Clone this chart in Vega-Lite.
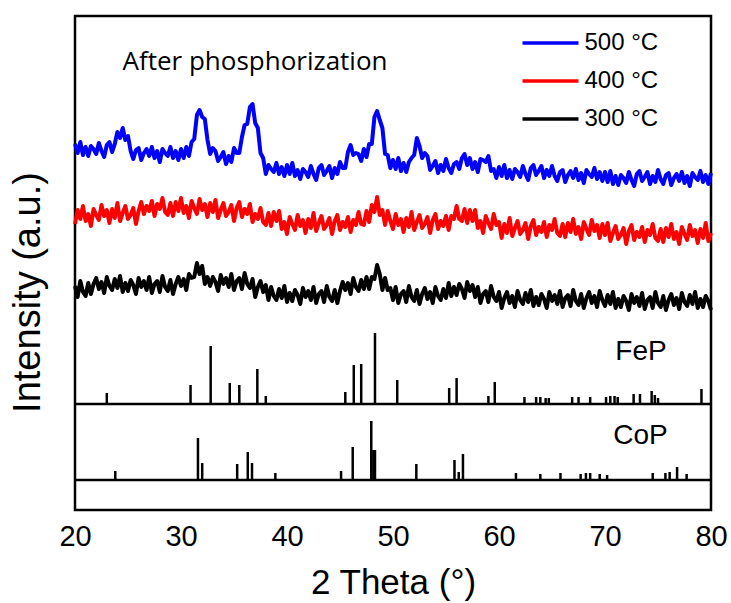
{
"$schema": "https://vega.github.io/schema/vega-lite/v6.json",
"width": 636,
"height": 494,
"autosize": {"type": "none"},
"padding": {"left": 75, "top": 16, "right": 20, "bottom": 93},
"background": "white",
"config": {
  "view": {"stroke": "black", "strokeWidth": 2.5},
  "font": "Liberation Sans",
  "axisX": {"labelFontSize": 29, "labelFont": "Liberation Sans", "labelColor": "black", "ticks": false, "domain": false, "grid": false, "labelPadding": 12, "labelFlush": false, "titleFontSize": 35, "titleFont": "Liberation Sans", "titleFontWeight": "normal", "titleColor": "black", "titlePadding": 14},
  "axisY": {"labels": false, "ticks": false, "domain": false, "grid": false, "titleFontSize": 38, "titleFont": "Liberation Sans", "titleFontWeight": "normal", "titleColor": "black", "titlePadding": 28, "titleY": 276}
},
"datasets": {
"xrd": [
{"t":20,"b":366,"r":286,"k":224},{"t":20.25,"b":357,"r":300,"k":213},{"t":20.5,"b":368,"r":291,"k":229},{"t":20.75,"b":355,"r":304,"k":218},
{"t":21,"b":363,"r":289,"k":214},{"t":21.25,"b":354,"r":296,"k":227},{"t":21.5,"b":364,"r":284,"k":216},{"t":21.75,"b":361,"r":301,"k":226},
{"t":22,"b":356,"r":295,"k":232},{"t":22.25,"b":367,"r":290,"k":221},{"t":22.5,"b":359,"r":305,"k":228},{"t":22.75,"b":353,"r":294,"k":217},
{"t":23,"b":365,"r":300,"k":233},{"t":23.25,"b":368,"r":287,"k":224},{"t":23.5,"b":358,"r":301,"k":220},{"t":23.75,"b":366,"r":292,"k":231},
{"t":24,"b":378,"r":307,"k":222},{"t":24.25,"b":372,"r":289,"k":234},{"t":24.5,"b":382,"r":297,"k":218},{"t":24.75,"b":370,"r":304,"k":227},
{"t":25,"b":374,"r":291,"k":219},{"t":25.25,"b":359,"r":295,"k":230},{"t":25.5,"b":351,"r":302,"k":225},{"t":25.75,"b":360,"r":286,"k":216},
{"t":26,"b":362,"r":299,"k":232},{"t":26.25,"b":350,"r":308,"k":223},{"t":26.5,"b":357,"r":296,"k":229},{"t":26.75,"b":361,"r":304,"k":220},
{"t":27,"b":354,"r":299,"k":233},{"t":27.25,"b":363,"r":309,"k":217},{"t":27.5,"b":352,"r":294,"k":226},{"t":27.75,"b":359,"r":306,"k":229},
{"t":28,"b":348,"r":301,"k":218},{"t":28.25,"b":361,"r":312,"k":234},{"t":28.5,"b":357,"r":298,"k":223},{"t":28.75,"b":354,"r":295,"k":219},
{"t":29,"b":363,"r":307,"k":230},{"t":29.25,"b":352,"r":294,"k":216},{"t":29.5,"b":359,"r":308,"k":226},{"t":29.75,"b":350,"r":299,"k":233},
{"t":30,"b":361,"r":312,"k":224},{"t":30.25,"b":352,"r":297,"k":231},{"t":30.5,"b":363,"r":304,"k":220},{"t":30.75,"b":354,"r":292,"k":236},
{"t":31,"b":368,"r":309,"k":232},{"t":31.25,"b":371,"r":302,"k":233},{"t":31.5,"b":395,"r":296,"k":247},{"t":31.75,"b":400,"r":311,"k":236},
{"t":32,"b":393,"r":300,"k":244},{"t":32.25,"b":391,"r":306,"k":226},{"t":32.5,"b":370,"r":293,"k":233},{"t":32.75,"b":356,"r":307,"k":224},
{"t":33,"b":362,"r":298,"k":233},{"t":33.25,"b":359,"r":310,"k":228},{"t":33.5,"b":349,"r":292,"k":219},{"t":33.75,"b":353,"r":300,"k":235},
{"t":34,"b":358,"r":307,"k":226},{"t":34.25,"b":346,"r":294,"k":232},{"t":34.5,"b":354,"r":298,"k":223},{"t":34.75,"b":348,"r":305,"k":236},
{"t":35,"b":362,"r":289,"k":220},{"t":35.25,"b":357,"r":302,"k":229},{"t":35.5,"b":357,"r":308,"k":232},{"t":35.75,"b":373,"r":293,"k":221},
{"t":36,"b":385,"r":301,"k":237},{"t":36.25,"b":386,"r":296,"k":226},{"t":36.5,"b":403,"r":306,"k":222},{"t":36.75,"b":406,"r":288,"k":231},
{"t":37,"b":387,"r":296,"k":213},{"t":37.25,"b":382,"r":291,"k":223},{"t":37.5,"b":357,"r":302,"k":229},{"t":37.75,"b":352,"r":288,"k":218},
{"t":38,"b":336,"r":285,"k":225},{"t":38.25,"b":345,"r":297,"k":210},{"t":38.5,"b":341,"r":284,"k":223},{"t":38.75,"b":338,"r":298,"k":214},
{"t":39,"b":347,"r":289,"k":210},{"t":39.25,"b":336,"r":299,"k":221},{"t":39.5,"b":343,"r":281,"k":212},{"t":39.75,"b":334,"r":288,"k":224},
{"t":40,"b":345,"r":276,"k":208},{"t":40.25,"b":336,"r":293,"k":217},{"t":40.5,"b":347,"r":286,"k":209},{"t":40.75,"b":334,"r":280,"k":220},
{"t":41,"b":340,"r":295,"k":215},{"t":41.25,"b":331,"r":284,"k":206},{"t":41.5,"b":341,"r":290,"k":222},{"t":41.75,"b":338,"r":277,"k":213},
{"t":42,"b":333,"r":291,"k":219},{"t":42.25,"b":344,"r":282,"k":210},{"t":42.5,"b":336,"r":297,"k":223},{"t":42.75,"b":330,"r":279,"k":207},
{"t":43,"b":342,"r":287,"k":216},{"t":43.25,"b":345,"r":294,"k":219},{"t":43.5,"b":335,"r":281,"k":208},{"t":43.75,"b":339,"r":285,"k":224},
{"t":44,"b":344,"r":292,"k":213},{"t":44.25,"b":332,"r":276,"k":209},{"t":44.5,"b":342,"r":289,"k":220},{"t":44.75,"b":336,"r":295,"k":207},
{"t":45,"b":348,"r":280,"k":219},{"t":45.25,"b":342,"r":288,"k":228},{"t":45.5,"b":342,"r":283,"k":220},{"t":45.75,"b":358,"r":293,"k":227},
{"t":46,"b":365,"r":278,"k":216},{"t":46.25,"b":355,"r":290,"k":232},{"t":46.5,"b":357,"r":285,"k":223},{"t":46.75,"b":356,"r":298,"k":219},
{"t":47,"b":349,"r":286,"k":230},{"t":47.25,"b":361,"r":285,"k":221},{"t":47.5,"b":353,"r":299,"k":233},{"t":47.75,"b":366,"r":288,"k":221},
{"t":48,"b":366,"r":305,"k":233},{"t":48.25,"b":393,"r":298,"k":231},{"t":48.5,"b":399,"r":313,"k":245},{"t":48.75,"b":390,"r":295,"k":236},
{"t":49,"b":382,"r":300,"k":220},{"t":49.25,"b":356,"r":285,"k":232},{"t":49.5,"b":355,"r":299,"k":220},{"t":49.75,"b":342,"r":289,"k":222},
{"t":50,"b":350,"r":281,"k":210},{"t":50.25,"b":341,"r":296,"k":223},{"t":50.5,"b":352,"r":285,"k":207},{"t":50.75,"b":339,"r":291,"k":216},
{"t":51,"b":347,"r":278,"k":219},{"t":51.25,"b":338,"r":292,"k":208},{"t":51.5,"b":348,"r":283,"k":224},{"t":51.75,"b":352,"r":298,"k":213},
{"t":52,"b":355,"r":280,"k":209},{"t":52.25,"b":372,"r":288,"k":220},{"t":52.5,"b":364,"r":295,"k":206},{"t":52.75,"b":352,"r":282,"k":216},
{"t":53,"b":357,"r":286,"k":222},{"t":53.25,"b":354,"r":293,"k":211},{"t":53.5,"b":340,"r":277,"k":218},{"t":53.75,"b":344,"r":290,"k":207},
{"t":54,"b":349,"r":296,"k":223},{"t":54.25,"b":337,"r":281,"k":214},{"t":54.5,"b":345,"r":289,"k":210},{"t":54.75,"b":339,"r":284,"k":221},
{"t":55,"b":351,"r":294,"k":212},{"t":55.25,"b":342,"r":280,"k":227},{"t":55.5,"b":337,"r":294,"k":214},{"t":55.75,"b":346,"r":291,"k":223},
{"t":56,"b":348,"r":304,"k":215},{"t":56.25,"b":341,"r":291,"k":226},{"t":56.5,"b":352,"r":289,"k":221},{"t":56.75,"b":356,"r":301,"k":212},
{"t":57,"b":345,"r":287,"k":228},{"t":57.25,"b":352,"r":300,"k":219},{"t":57.5,"b":341,"r":289,"k":225},{"t":57.75,"b":348,"r":300,"k":213},
{"t":58,"b":338,"r":282,"k":223},{"t":58.25,"b":351,"r":289,"k":207},{"t":58.5,"b":350,"r":277,"k":216},{"t":58.75,"b":348,"r":294,"k":219},
{"t":59,"b":354,"r":287,"k":208},{"t":59.25,"b":339,"r":281,"k":224},{"t":59.5,"b":341,"r":296,"k":213},{"t":59.75,"b":332,"r":285,"k":209},
{"t":60,"b":343,"r":288,"k":218},{"t":60.25,"b":334,"r":272,"k":202},{"t":60.5,"b":345,"r":286,"k":212},{"t":60.75,"b":332,"r":277,"k":218},
{"t":61,"b":340,"r":292,"k":207},{"t":61.25,"b":331,"r":274,"k":214},{"t":61.5,"b":341,"r":282,"k":203},{"t":61.75,"b":338,"r":289,"k":219},
{"t":62,"b":333,"r":276,"k":210},{"t":62.25,"b":344,"r":280,"k":206},{"t":62.5,"b":336,"r":287,"k":217},{"t":62.75,"b":330,"r":271,"k":208},
{"t":63,"b":342,"r":284,"k":220},{"t":63.25,"b":345,"r":290,"k":204},{"t":63.5,"b":335,"r":275,"k":213},{"t":63.75,"b":339,"r":283,"k":205},
{"t":64,"b":344,"r":278,"k":216},{"t":64.25,"b":332,"r":288,"k":211},{"t":64.5,"b":340,"r":273,"k":202},{"t":64.75,"b":334,"r":285,"k":218},
{"t":65,"b":344,"r":280,"k":209},{"t":65.25,"b":334,"r":291,"k":215},{"t":65.5,"b":329,"r":277,"k":206},{"t":65.75,"b":338,"r":274,"k":219},
{"t":66,"b":340,"r":286,"k":203},{"t":66.25,"b":328,"r":273,"k":212},{"t":66.5,"b":335,"r":287,"k":215},{"t":66.75,"b":339,"r":278,"k":204},
{"t":67,"b":332,"r":291,"k":220},{"t":67.25,"b":341,"r":276,"k":209},{"t":67.5,"b":330,"r":283,"k":205},{"t":67.75,"b":337,"r":271,"k":216},
{"t":68,"b":327,"r":288,"k":202},{"t":68.25,"b":340,"r":281,"k":212},{"t":68.5,"b":336,"r":275,"k":218},{"t":68.75,"b":333,"r":290,"k":207},
{"t":69,"b":342,"r":279,"k":214},{"t":69.25,"b":331,"r":285,"k":203},{"t":69.5,"b":338,"r":272,"k":219},{"t":69.75,"b":329,"r":286,"k":210},
{"t":70,"b":338,"r":275,"k":204},{"t":70.25,"b":328,"r":287,"k":215},{"t":70.5,"b":339,"r":269,"k":206},{"t":70.75,"b":326,"r":277,"k":218},
{"t":71,"b":334,"r":284,"k":202},{"t":71.25,"b":325,"r":271,"k":211},{"t":71.5,"b":335,"r":275,"k":203},{"t":71.75,"b":332,"r":282,"k":214},
{"t":72,"b":327,"r":266,"k":209},{"t":72.25,"b":338,"r":279,"k":200},{"t":72.5,"b":330,"r":285,"k":216},{"t":72.75,"b":324,"r":270,"k":207},
{"t":73,"b":336,"r":278,"k":213},{"t":73.25,"b":339,"r":273,"k":204},{"t":73.5,"b":329,"r":283,"k":217},{"t":73.75,"b":333,"r":268,"k":201},
{"t":74,"b":338,"r":280,"k":210},{"t":74.25,"b":326,"r":275,"k":213},{"t":74.5,"b":334,"r":286,"k":202},{"t":74.75,"b":328,"r":272,"k":218},
{"t":75,"b":340,"r":269,"k":207},{"t":75.25,"b":331,"r":281,"k":203},{"t":75.5,"b":326,"r":268,"k":214},{"t":75.75,"b":335,"r":282,"k":200},
{"t":76,"b":337,"r":273,"k":210},{"t":76.25,"b":325,"r":286,"k":216},{"t":76.5,"b":332,"r":271,"k":205},{"t":76.75,"b":336,"r":278,"k":212},
{"t":77,"b":329,"r":266,"k":201},{"t":77.25,"b":338,"r":283,"k":217},{"t":77.5,"b":327,"r":276,"k":208},{"t":77.75,"b":334,"r":270,"k":204},
{"t":78,"b":324,"r":285,"k":215},{"t":78.25,"b":337,"r":274,"k":206},{"t":78.5,"b":333,"r":280,"k":218},{"t":78.75,"b":330,"r":267,"k":202},
{"t":79,"b":339,"r":281,"k":211},{"t":79.25,"b":328,"r":272,"k":203},{"t":79.5,"b":335,"r":287,"k":214},{"t":79.75,"b":326,"r":269,"k":209},
{"t":80,"b":337,"r":277,"k":200}
],
"sticks": [
{"t":23.0,"lo":106,"hi":117},{"t":30.9,"lo":106,"hi":125},{"t":32.8,"lo":106,"hi":164},{"t":34.6,"lo":106,"hi":127},
{"t":35.5,"lo":106,"hi":125},{"t":37.2,"lo":106,"hi":141},{"t":38.0,"lo":106,"hi":114},{"t":45.5,"lo":106,"hi":118},
{"t":46.3,"lo":106,"hi":145},{"t":47.0,"lo":106,"hi":146},{"t":48.3,"lo":106,"hi":177},{"t":50.4,"lo":106,"hi":130},
{"t":55.3,"lo":106,"hi":122},{"t":56.0,"lo":106,"hi":132},{"t":59.0,"lo":106,"hi":114},{"t":59.6,"lo":106,"hi":128},
{"t":62.4,"lo":106,"hi":113},{"t":63.5,"lo":106,"hi":113},{"t":63.9,"lo":106,"hi":113},{"t":64.4,"lo":106,"hi":112},
{"t":64.7,"lo":106,"hi":112},{"t":66.9,"lo":106,"hi":113},{"t":67.5,"lo":106,"hi":113},{"t":68.6,"lo":106,"hi":113},
{"t":70.1,"lo":106,"hi":113},{"t":70.5,"lo":106,"hi":114},{"t":70.9,"lo":106,"hi":114},{"t":71.2,"lo":106,"hi":113},
{"t":72.7,"lo":106,"hi":116},{"t":73.3,"lo":106,"hi":116},{"t":74.4,"lo":106,"hi":119},{"t":74.7,"lo":106,"hi":115},
{"t":75.0,"lo":106,"hi":112},{"t":79.1,"lo":106,"hi":121},
{"t":23.8,"lo":30,"hi":39},{"t":31.6,"lo":30,"hi":72},{"t":32.0,"lo":30,"hi":47},{"t":35.3,"lo":30,"hi":46},
{"t":36.3,"lo":30,"hi":58},{"t":36.7,"lo":30,"hi":47},{"t":38.9,"lo":30,"hi":37},{"t":45.1,"lo":30,"hi":39},
{"t":46.2,"lo":30,"hi":63},{"t":47.95,"lo":30,"hi":89},{"t":48.15,"lo":30,"hi":60},{"t":48.3,"lo":30,"hi":60},
{"t":52.2,"lo":30,"hi":46},{"t":55.8,"lo":30,"hi":50},{"t":56.2,"lo":30,"hi":38},{"t":56.6,"lo":30,"hi":56},
{"t":61.6,"lo":30,"hi":37},{"t":63.9,"lo":30,"hi":36},{"t":65.8,"lo":30,"hi":37},{"t":67.7,"lo":30,"hi":36},
{"t":68.2,"lo":30,"hi":37},{"t":68.6,"lo":30,"hi":37},{"t":69.5,"lo":30,"hi":36},{"t":70.2,"lo":30,"hi":35},
{"t":74.5,"lo":30,"hi":37},{"t":75.7,"lo":30,"hi":37},{"t":76.1,"lo":30,"hi":38},{"t":76.8,"lo":30,"hi":43},
{"t":77.7,"lo":30,"hi":36}
],
"bases": [{"base":106},{"base":30}]
},
"layer": [
{
  "data": {"name": "xrd"},
  "transform": [{"fold": ["b", "r", "k"], "as": ["key", "value"]}],
  "mark": {"type": "line", "strokeWidth": 4, "interpolate": "linear", "strokeJoin": "round"},
  "encoding": {
    "x": {"field": "t", "type": "quantitative", "scale": {"domain": [20, 80], "nice": false, "zero": false}, "title": "2 Theta (°)", "axis": {"values": [20, 30, 40, 50, 60, 70, 80]}},
    "y": {"field": "value", "type": "quantitative", "scale": {"domain": [0, 494], "nice": false, "zero": false}, "title": "Intensity (a.u.)"},
    "color": {"field": "key", "type": "nominal", "scale": {"domain": ["b", "r", "k"], "range": ["#0000ff", "#ff0000", "#000000"]},
      "legend": {"orient": "none", "legendX": 445.5, "legendY": 15, "title": null, "symbolType": "stroke", "symbolSize": 3136, "symbolStrokeWidth": 3.5, "clipHeight": 24, "rowPadding": 14, "labelFontSize": 24, "labelFont": "Liberation Sans", "labelColor": "black", "labelOffset": 4, "padding": 0,
        "labelExpr": "datum.label == 'b' ? '500 °C' : datum.label == 'r' ? '400 °C' : '300 °C'"}},
    "order": {"field": "t", "type": "quantitative"}
  }
},
{
  "data": {"name": "sticks"},
  "mark": {"type": "rule", "color": "black", "strokeWidth": 2.5},
  "encoding": {
    "x": {"field": "t", "type": "quantitative", "scale": {"domain": [20, 80], "nice": false, "zero": false}, "title": "2 Theta (°)", "axis": {"values": [20, 30, 40, 50, 60, 70, 80]}},
    "y": {"field": "lo", "type": "quantitative", "scale": {"domain": [0, 494], "nice": false, "zero": false}, "title": "Intensity (a.u.)"},
    "y2": {"field": "hi"}
  }
},
{
  "data": {"name": "bases"},
  "mark": {"type": "rule", "color": "black", "strokeWidth": 2.5},
  "encoding": {
    "y": {"field": "base", "type": "quantitative", "scale": {"domain": [0, 494], "nice": false, "zero": false}, "title": "Intensity (a.u.)"}
  }
},
{
  "data": {"values": [{}]},
  "mark": {"type": "text", "text": "After phosphorization", "font": "Open Sans", "fontSize": 26, "align": "center", "baseline": "middle", "color": "black"},
  "encoding": {
    "x": {"datum": 36.98, "type": "quantitative", "scale": {"domain": [20, 80], "nice": false, "zero": false}, "title": "2 Theta (°)", "axis": {"values": [20, 30, 40, 50, 60, 70, 80]}},
    "y": {"datum": 448, "type": "quantitative", "scale": {"domain": [0, 494], "nice": false, "zero": false}, "title": "Intensity (a.u.)"}
  }
},
{
  "data": {"values": [{}]},
  "mark": {"type": "text", "text": "FeP", "font": "Liberation Sans", "fontSize": 28, "align": "center", "baseline": "middle", "color": "black"},
  "encoding": {
    "x": {"datum": 73.4, "type": "quantitative", "scale": {"domain": [20, 80], "nice": false, "zero": false}, "title": "2 Theta (°)", "axis": {"values": [20, 30, 40, 50, 60, 70, 80]}},
    "y": {"datum": 158, "type": "quantitative", "scale": {"domain": [0, 494], "nice": false, "zero": false}, "title": "Intensity (a.u.)"}
  }
},
{
  "data": {"values": [{}]},
  "mark": {"type": "text", "text": "CoP", "font": "Liberation Sans", "fontSize": 28, "align": "center", "baseline": "middle", "color": "black"},
  "encoding": {
    "x": {"datum": 73.35, "type": "quantitative", "scale": {"domain": [20, 80], "nice": false, "zero": false}, "title": "2 Theta (°)", "axis": {"values": [20, 30, 40, 50, 60, 70, 80]}},
    "y": {"datum": 74, "type": "quantitative", "scale": {"domain": [0, 494], "nice": false, "zero": false}, "title": "Intensity (a.u.)"}
  }
}
]
}
